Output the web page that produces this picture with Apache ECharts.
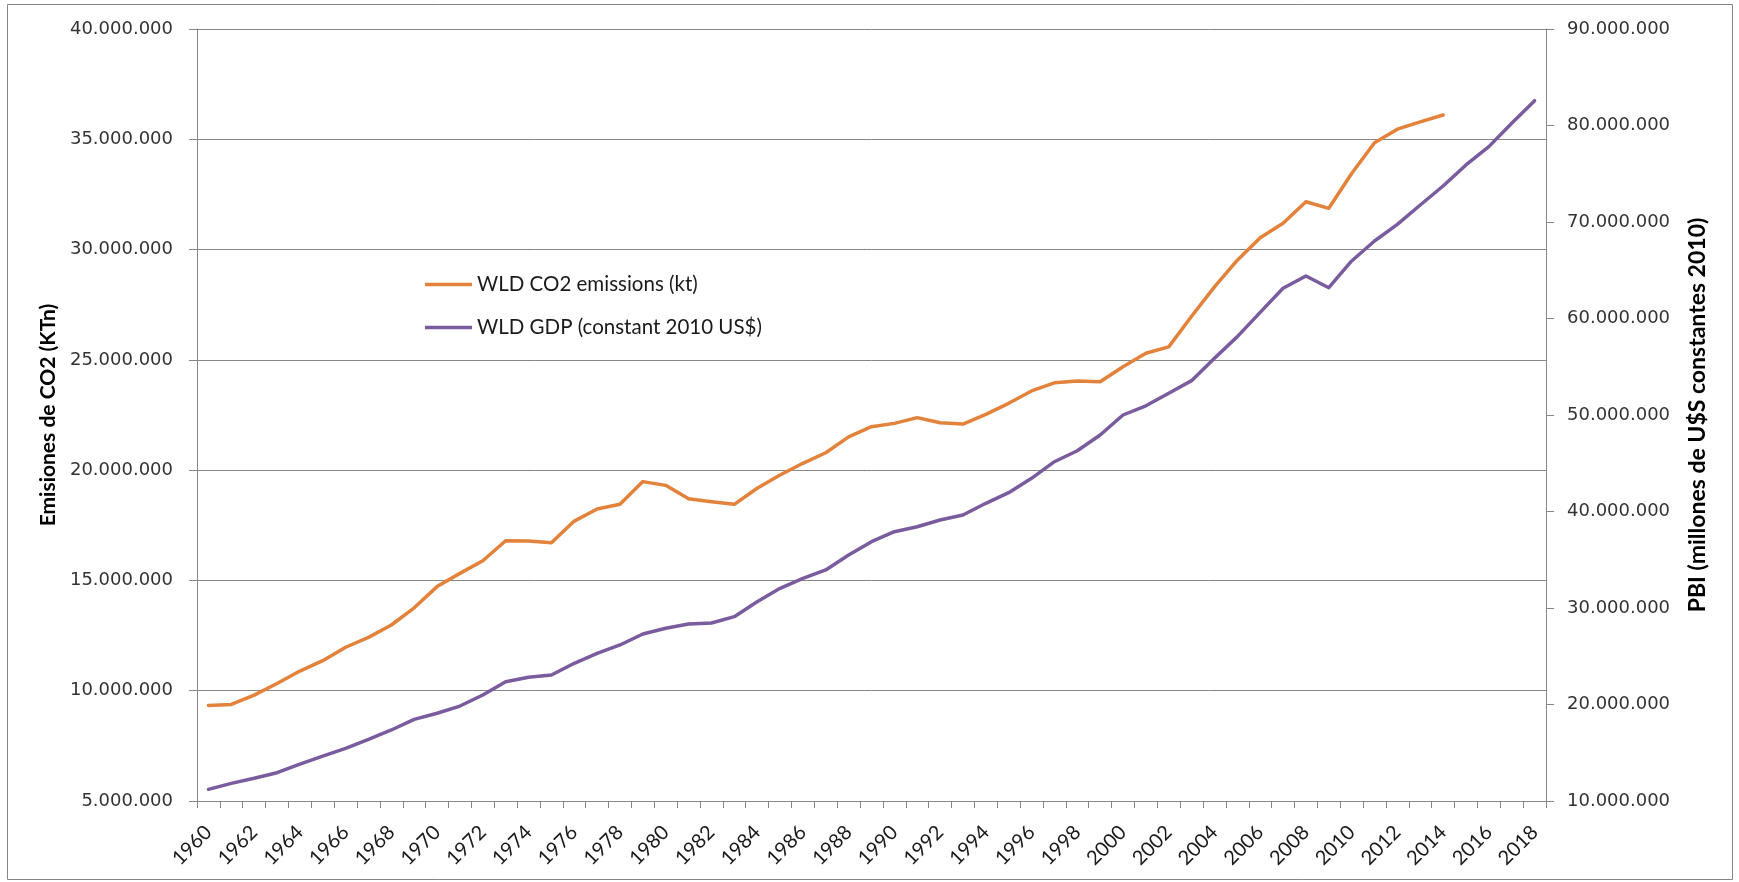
<!DOCTYPE html>
<html>
<head>
<meta charset="utf-8">
<script src="https://cdn.jsdelivr.net/npm/echarts@6/dist/echarts.min.js"></script>
<style>
  html, body { margin: 0; padding: 0; background: #ffffff; }
  #chart { width: 1739px; height: 882px; }
</style>
</head>
<body>
<div id="chart"></div>
<script>
// ---- Data ----
const years = ['1960','1961','1962','1963','1964','1965','1966','1967','1968','1969',
  '1970','1971','1972','1973','1974','1975','1976','1977','1978','1979',
  '1980','1981','1982','1983','1984','1985','1986','1987','1988','1989',
  '1990','1991','1992','1993','1994','1995','1996','1997','1998','1999',
  '2000','2001','2002','2003','2004','2005','2006','2007','2008','2009',
  '2010','2011','2012','2013','2014','2015','2016','2017','2018'];

// WLD CO2 emissions (kt), 1960-2014
const co2 = [9330000, 9380000, 9800000, 10330000, 10890000, 11360000, 11970000, 12420000, 12980000, 13760000,
  14720000, 15320000, 15890000, 16800000, 16790000, 16710000, 17690000, 18240000, 18450000, 19480000,
  19310000, 18700000, 18570000, 18450000, 19180000, 19780000, 20310000, 20790000, 21510000, 21970000,
  22120000, 22380000, 22150000, 22090000, 22530000, 23030000, 23590000, 23960000, 24040000, 24010000,
  24690000, 25300000, 25590000, 26980000, 28310000, 29520000, 30540000, 31190000, 32170000, 31870000,
  33450000, 34840000, 35460000, 35790000, 36100000];

// WLD GDP (constant 2010 US$), millones, 1960-2018
const gdp = [11210000, 11830000, 12350000, 12930000, 13830000, 14660000, 15460000, 16390000, 17360000, 18460000,
  19090000, 19840000, 20980000, 22360000, 22820000, 23060000, 24270000, 25300000, 26170000, 27310000,
  27900000, 28340000, 28450000, 29100000, 30650000, 32040000, 33070000, 33940000, 35490000, 36870000,
  37910000, 38420000, 39120000, 39640000, 40850000, 41950000, 43440000, 45160000, 46300000, 47930000,
  50000000, 50950000, 52250000, 53560000, 55880000, 58120000, 60640000, 63130000, 64400000, 63190000,
  65960000, 68030000, 69760000, 71760000, 73730000, 75910000, 77810000, 80230000, 82570000];

const seriesNames = ['WLD CO2 emissions (kt)', 'WLD GDP (constant 2010 US$)'];
const leftAxisName = 'Emisiones de CO2 (KTn)';
const rightAxisName = 'PBI (millones de U$S constantes 2010)';

function fmt(v) {
  return String(Math.round(v)).replace(/\B(?=(\d{3})+(?!\d))/g, '.');
}

const axisGray = '#878787';
const orange = '#E3823A';
const purple = '#7A5C9E';
const chart = echarts.init(document.getElementById('chart'), null, { renderer: 'canvas' });

chart.setOption({
  backgroundColor: '#ffffff',
  animation: false,
  graphic: [{
    type: 'rect',
    shape: { x: 7.5, y: 4.5, width: 1725, height: 875 },
    style: { fill: 'none', stroke: '#858585', lineWidth: 1 },
    silent: true
  }],
  grid: { left: 197, right: 193, top: 29, bottom: 81, containLabel: false },
  legend: {
    orient: 'vertical',
    left: 420,
    top: 269,
    icon: 'rect',
    itemWidth: 47,
    itemHeight: 3.5,
    itemGap: 22,
    data: seriesNames,
    textStyle: { fontFamily: 'Lato', fontSize: 20.5, lineHeight: 20, color: '#1a1a1a' }
  },
  xAxis: {
    type: 'category',
    data: years,
    boundaryGap: true,
    axisLine: { show: true, lineStyle: { color: axisGray, width: 1 } },
    axisTick: { show: true, interval: 0, alignWithLabel: false, length: 7, lineStyle: { color: axisGray } },
    axisLabel: {
      interval: 1,
      rotate: 45,
      margin: 28,
      fontFamily: 'Lato',
      fontSize: 20,
      color: '#1a1a1a'
    },
    splitLine: { show: false }
  },
  yAxis: [{
    type: 'value',
    position: 'left',
    min: 5000000,
    max: 40000000,
    interval: 5000000,
    name: leftAxisName,
    nameLocation: 'middle',
    nameGap: 133,
    nameTextStyle: { fontFamily: 'Lato', fontWeight: 'bold', fontSize: 21, color: '#000' },
    axisLine: { show: true, lineStyle: { color: axisGray, width: 1 } },
    axisTick: { show: true, length: 8, lineStyle: { color: axisGray } },
    axisLabel: { formatter: fmt, margin: 24, fontFamily: 'DejaVu Sans', fontSize: 18, color: '#333' },
    splitLine: { show: true, lineStyle: { color: axisGray, width: 1 } }
  }, {
    type: 'value',
    position: 'right',
    min: 10000000,
    max: 90000000,
    interval: 10000000,
    name: rightAxisName,
    nameLocation: 'middle',
    nameGap: 140,
    nameRotate: 90,
    nameTextStyle: { fontFamily: 'Lato', fontWeight: 'bold', fontSize: 23, color: '#000' },
    axisLine: { show: true, lineStyle: { color: axisGray, width: 1 } },
    axisTick: { show: true, length: 8, lineStyle: { color: axisGray } },
    axisLabel: { formatter: fmt, margin: 21, fontFamily: 'DejaVu Sans', fontSize: 18, color: '#333' },
    splitLine: { show: false }
  }],
  series: [{
    name: seriesNames[0],
    type: 'line',
    yAxisIndex: 0,
    data: co2,
    symbol: 'none',
    color: orange,
    itemStyle: { color: orange },
    lineStyle: { width: 3.5, color: orange, cap: 'round', join: 'round' }
  }, {
    name: seriesNames[1],
    type: 'line',
    yAxisIndex: 1,
    data: gdp,
    symbol: 'none',
    color: purple,
    itemStyle: { color: purple },
    lineStyle: { width: 3.5, color: purple, cap: 'round', join: 'round' }
  }]
});
</script>
</body>
</html>
